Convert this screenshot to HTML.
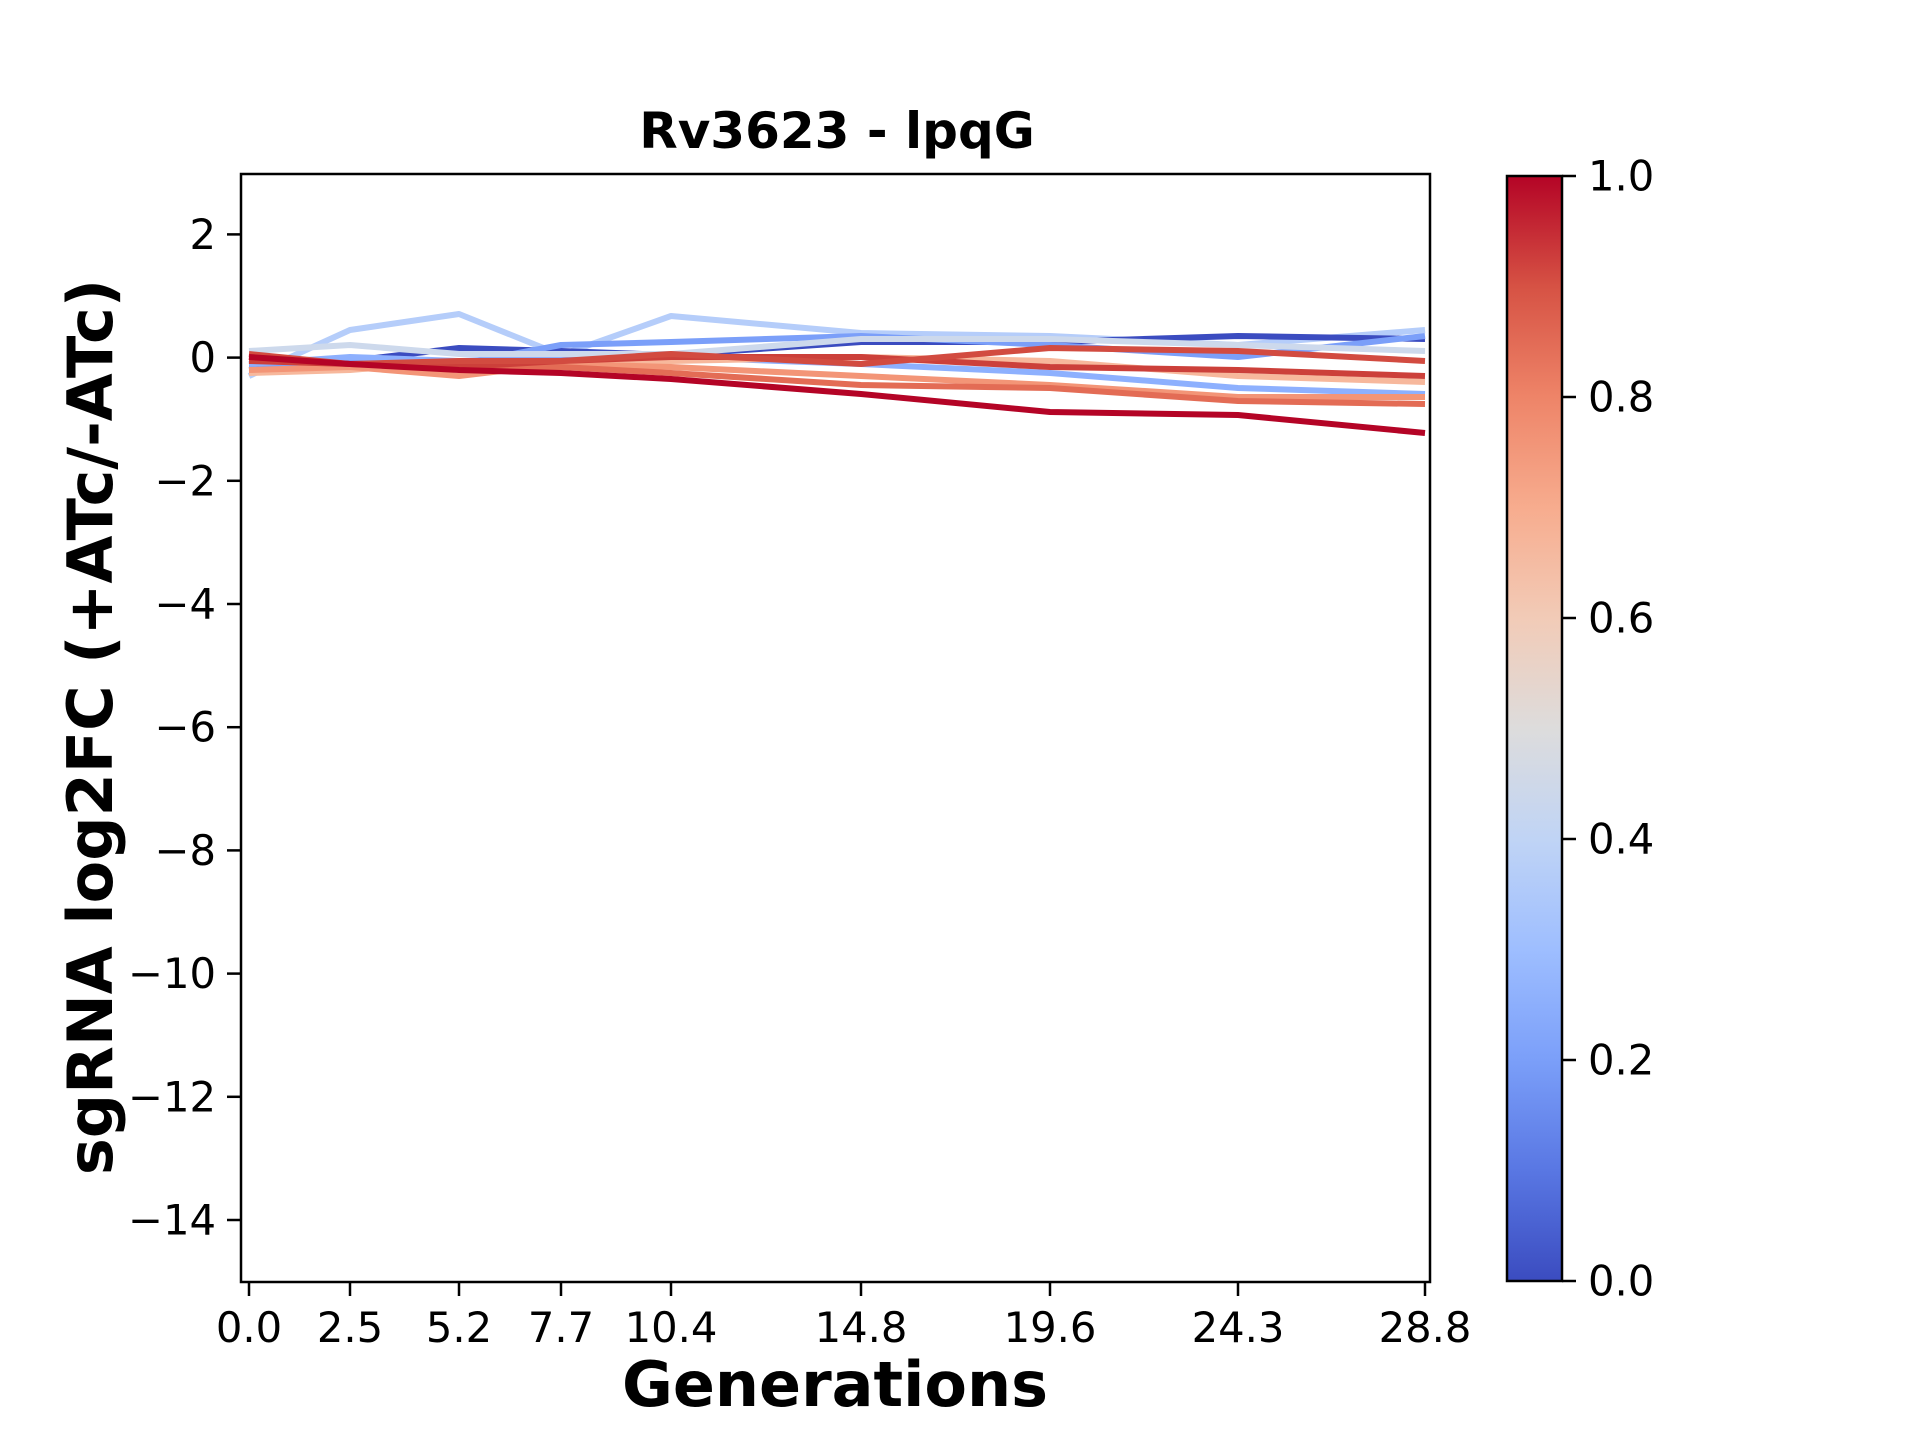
<!DOCTYPE html>
<html><head><meta charset="utf-8"><style>html,body{margin:0;padding:0;background:#fff}svg{display:block}</style></head>
<body>
<svg width="1920" height="1440" viewBox="0 0 1920 1440" xmlns="http://www.w3.org/2000/svg" font-family="DejaVu Sans, Liberation Sans, sans-serif">
<defs>
<linearGradient id="cw" x1="0" y1="1" x2="0" y2="0">
<stop offset="0" stop-color="#3b4cc0"/><stop offset="0.1" stop-color="#5977e3"/><stop offset="0.2" stop-color="#7b9ff9"/><stop offset="0.3" stop-color="#9ebeff"/><stop offset="0.4" stop-color="#c0d4f5"/><stop offset="0.5" stop-color="#dddcdc"/><stop offset="0.6" stop-color="#f2cbb7"/><stop offset="0.7" stop-color="#f7ac8e"/><stop offset="0.8" stop-color="#ee8468"/><stop offset="0.9" stop-color="#d65244"/><stop offset="1" stop-color="#b40426"/>
</linearGradient>
<clipPath id="ax"><rect x="241" y="174" width="1189" height="1108"/></clipPath>
</defs>
<g clip-path="url(#ax)" fill="none" stroke-width="6" stroke-linejoin="round">
<polyline stroke="#b5cdfa" points="249,376 350,330 459,314 561,355 671,316 861,333 1050,336 1238,345 1425,330"/>
<polyline stroke="#3b4cc0" points="249,364 350,361 459,348 561,351 671,355 861,342 1050,342 1238,336 1425,339"/>
<polyline stroke="#7b9ff9" points="249,370 350,361 459,364 561,345 671,342 861,336 1050,345 1238,357 1425,336"/>
<polyline stroke="#8db0fe" points="249,364 350,357 459,361 561,357 671,357 861,364 1050,373 1238,388 1425,394"/>
<polyline stroke="#cdd9ec" points="249,351 350,345 459,354 561,354 671,354 861,339 1050,339 1238,345 1425,351"/>
<polyline stroke="#f7b89c" points="249,373 350,370 459,361 561,364 671,361 861,357 1050,361 1238,376 1425,382"/>
<polyline stroke="#f39577" points="249,370 350,367 459,376 561,364 671,367 861,376 1050,385 1238,397 1425,397"/>
<polyline stroke="#e36c55" points="249,357 350,364 459,367 561,367 671,373 861,385 1050,388 1238,401 1425,404"/>
<polyline stroke="#cc403a" points="249,361 350,364 459,367 561,361 671,357 861,357 1050,367 1238,370 1425,376"/>
<polyline stroke="#d24b40" points="249,354 350,364 459,361 561,361 671,354 861,364 1050,348 1238,351 1425,361"/>
<polyline stroke="#b40426" points="249,357 350,364 459,370 561,373 671,379 861,394 1050,412 1238,415 1425,433"/>
</g>
<rect x="241" y="174" width="1189" height="1108" fill="none" stroke="#000" stroke-width="2.5"/>
<g stroke="#000" stroke-width="2.5">
<line x1="249" y1="1282" x2="249" y2="1296"/><line x1="350" y1="1282" x2="350" y2="1296"/><line x1="459" y1="1282" x2="459" y2="1296"/><line x1="561" y1="1282" x2="561" y2="1296"/><line x1="671" y1="1282" x2="671" y2="1296"/><line x1="861" y1="1282" x2="861" y2="1296"/><line x1="1050" y1="1282" x2="1050" y2="1296"/><line x1="1238" y1="1282" x2="1238" y2="1296"/><line x1="1425" y1="1282" x2="1425" y2="1296"/>
<line x1="227" y1="234.4" x2="241" y2="234.4"/><line x1="227" y1="357.6" x2="241" y2="357.6"/><line x1="227" y1="480.8" x2="241" y2="480.8"/><line x1="227" y1="604" x2="241" y2="604"/><line x1="227" y1="727.2" x2="241" y2="727.2"/><line x1="227" y1="850.4" x2="241" y2="850.4"/><line x1="227" y1="973.6" x2="241" y2="973.6"/><line x1="227" y1="1096.8" x2="241" y2="1096.8"/><line x1="227" y1="1220" x2="241" y2="1220"/>
</g>
<g font-size="41.7" fill="#000" text-anchor="middle">
<text x="249" y="1342">0.0</text><text x="350" y="1342">2.5</text><text x="459" y="1342">5.2</text><text x="561" y="1342">7.7</text><text x="671" y="1342">10.4</text><text x="861" y="1342">14.8</text><text x="1050" y="1342">19.6</text><text x="1238" y="1342">24.3</text><text x="1425" y="1342">28.8</text>
</g>
<g font-size="41.7" fill="#000" text-anchor="end" dominant-baseline="central">
<text x="216" y="234.4">2</text><text x="216" y="357.6">0</text><text x="216" y="480.8">−2</text><text x="216" y="604">−4</text><text x="216" y="727.2">−6</text><text x="216" y="850.4">−8</text><text x="216" y="973.6">−10</text><text x="216" y="1096.8">−12</text><text x="216" y="1220">−14</text>
</g>
<text x="837" y="148" font-size="50" font-weight="bold" text-anchor="middle">Rv3623 - lpqG</text>
<text x="835" y="1406" font-size="62" font-weight="bold" text-anchor="middle">Generations</text>
<text transform="translate(112,727) rotate(-90)" font-size="62" font-weight="bold" text-anchor="middle">sgRNA log2FC (+ATc/-ATc)</text>
<rect x="1507" y="176" width="55" height="1105" fill="url(#cw)"/>
<rect x="1507" y="176" width="55" height="1105" fill="none" stroke="#000" stroke-width="2.5"/>
<g stroke="#000" stroke-width="2.5">
<line x1="1562" y1="176" x2="1576" y2="176"/><line x1="1562" y1="397" x2="1576" y2="397"/><line x1="1562" y1="618" x2="1576" y2="618"/><line x1="1562" y1="839" x2="1576" y2="839"/><line x1="1562" y1="1060" x2="1576" y2="1060"/><line x1="1562" y1="1281" x2="1576" y2="1281"/>
</g>
<g font-size="41.7" fill="#000" dominant-baseline="central">
<text x="1588" y="176">1.0</text><text x="1588" y="397">0.8</text><text x="1588" y="618">0.6</text><text x="1588" y="839">0.4</text><text x="1588" y="1060">0.2</text><text x="1588" y="1281">0.0</text>
</g>
</svg>
</body></html>
